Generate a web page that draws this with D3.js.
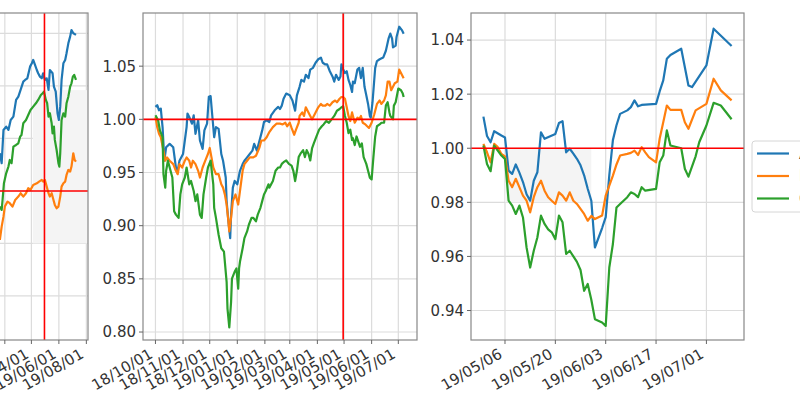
<!DOCTYPE html>
<html>
<head>
<meta charset="utf-8">
<script src="https://cdnjs.cloudflare.com/ajax/libs/d3/7.8.5/d3.min.js"></script>
<style>
  body { margin: 0; background: #fff; }
  text { font-family: "DejaVu Sans", sans-serif; }
</style>
</head>
<body>
<svg id="chart" width="800" height="418"></svg>
<script>
'use strict';
// each series point is [days after the panel's base date, value]

// ---- panel 1 (long range, left part cut off) ----
const base1 = '2019-01-01';
const range1 = ['2018-01-01', '2019-07-08'];
const xTicks1 = ['2018-02-01', '2018-04-01', '2018-06-01', '2018-08-01', '2018-10-01', '2018-12-01',
                 '2019-02-01', '2019-04-01', '2019-06-01', '2019-08-01'];
const yTicks1 = [0.90, 0.95, 1.00, 1.05, 1.10, 1.15];
const blue1 = [[20,1.0359],[24,1.0264],[28,1.0581],[34,1.0612],[39,1.0581],[44,1.0676],[50,1.0708],
  [56,1.0867],[61,1.0898],[66,1.0962],[72,1.1041],[76,1.1057],[81,1.1073],[87,1.1184],[91,1.1216],
  [94,1.1248],[98,1.1200],[102,1.1152],[105,1.1121],[109,1.1089],[113,1.1073],[116,1.1121],[120,1.1057],
  [124,1.1073],[128,1.0962],[131,1.1152],[137,1.1121],[140,1.0993],[144,1.0946],[148,1.0740],[151,1.0676],
  [154,1.0803],[157,1.1057],[161,1.1216],[165,1.1248],[168,1.1311],[172,1.1406],[176,1.1470],[179,1.1533],
  [183,1.1502],[189,1.1486]];
const orange1 = [[20,0.9533],[24,0.9660],[28,0.9755],[31,0.9851],[37,0.9898],[42,0.9883],[48,0.9851],
  [54,0.9914],[61,0.9946],[66,0.9978],[72,0.9946],[78,0.9978],[83,1.0026],[88,1.0010],[94,1.0057],
  [102,1.0073],[107,1.0089],[113,1.0105],[116,1.0089],[120,1.0105],[124,1.0041],[128,0.9978],[131,0.9946],
  [135,0.9978],[139,0.9914],[142,0.9867],[146,0.9835],[150,0.9851],[154,0.9946],[157,1.0041],[161,1.0073],
  [165,1.0089],[168,1.0152],[172,1.0200],[176,1.0184],[179,1.0232],[183,1.0359],[186,1.0295],[189,1.0279]];
const green1 = [[20,0.9851],[24,0.9819],[26,0.9914],[29,1.0073],[34,1.0168],[39,1.0232],[42,1.0295],
  [46,1.0264],[50,1.0422],[56,1.0438],[61,1.0454],[65,1.0517],[68,1.0533],[72,1.0645],[78,1.0676],
  [83,1.0724],[88,1.0771],[94,1.0803],[100,1.0835],[105,1.0867],[111,1.0914],[115,1.0930],[118,1.0946],
  [122,1.0867],[125,1.0835],[128,1.0708],[131,1.0740],[135,1.0645],[137,1.0549],[140,1.0612],[142,1.0486],
  [146,1.0390],[150,1.0264],[152,1.0232],[154,1.0359],[157,1.0676],[161,1.0740],[165,1.0708],[168,1.0835],
  [172,1.0898],[176,1.0993],[179,1.1025],[182,1.1089],[185,1.1105],[189,1.1057]];

// ---- panel 2 (since 18/10/01) ----
const base2 = '2018-10-01';
const range2 = ['2018-10-01', '2019-07-08'];
const xTicks2 = ['2018-10-01', '2018-11-01', '2018-12-01', '2019-01-01', '2019-02-01', '2019-03-01',
                 '2019-04-01', '2019-05-01', '2019-06-01', '2019-07-01'];
const yTicks2 = [0.80, 0.85, 0.90, 0.95, 1.00, 1.05];
const blue2 = [[0,1.0117],[2,1.0133],[4,1.0085],[6,1.0101],[8,0.9927],[10,0.9611],[12,0.9737],[16,0.9769],
  [20,0.9737],[23,0.9547],[25,0.9516],[27,0.9611],[31,0.9674],[35,0.9927],[36,1.0054],[38,1.0022],
  [41,0.9959],[43,1.0038],[45,0.9864],[48,0.9991],[50,0.9801],[53,0.9722],[55,0.9896],[58,0.9959],
  [60,1.0212],[62,1.0218],[64,1.0022],[66,0.9832],[68,0.9927],[71,0.9911],[74,0.9674],[76,0.9611],
  [79,0.9453],[80,0.9231],[82,0.9041],[84,0.8883],[85,0.9104],[87,0.9358],[89,0.9421],[92,0.9389],
  [95,0.9516],[98,0.9579],[100,0.9611],[103,0.9642],[106,0.9674],[109,0.9706],[111,0.9769],[114,0.9706],
  [117,0.9801],[120,0.9896],[122,0.9975],[125,0.9991],[128,0.9975],[130,1.0038],[134,1.0085],[138,1.0117],
  [140,1.0097],[142,1.0129],[144,1.0194],[147,1.0242],[151,1.0226],[154,1.0177],[157,1.0081],[159,1.0226],
  [162,1.0306],[164,1.0371],[167,1.0355],[169,1.0419],[172,1.0387],[174,1.0468],[177,1.0484],[180,1.0532],
  [183,1.0565],[186,1.0581],[188,1.0532],[191,1.0516],[193,1.0516],[196,1.0452],[199,1.0403],[201,1.0355],
  [203,1.0419],[206,1.0371],[208,1.0403],[209,1.0516],[211,1.0468],[213,1.0435],[215,1.0452],[217,1.0371],
  [219,1.0323],[221,1.0258],[222,1.0355],[224,1.0339],[227,1.0468],[229,1.0484],[231,1.0387],[233,1.0484],
  [235,1.0306],[237,1.0226],[239,1.0145],[241,1.0032],[242,1.0016],[244,1.0161],[247,1.0484],[249,1.0548],
  [252,1.0565],[256,1.0581],[259,1.0645],[262,1.0758],[264,1.0806],[266,1.0758],[267,1.0677],[270,1.0694],
  [271,1.0774],[274,1.0871],[277,1.0839],[279,1.0806]];
const orange2 = [[0,1.0022],[2,0.9927],[4,0.9864],[6,0.9832],[9,0.9706],[11,0.9611],[13,0.9642],[16,0.9611],
  [20,0.9579],[23,0.9516],[25,0.9484],[27,0.9579],[30,0.9547],[33,0.9611],[35,0.9642],[38,0.9611],
  [40,0.9547],[42,0.9611],[45,0.9579],[48,0.9516],[50,0.9453],[53,0.9547],[56,0.9611],[59,0.9674],
  [61,0.9731],[63,0.9642],[65,0.9547],[68,0.9484],[71,0.9484],[74,0.9389],[76,0.9358],[78,0.9294],
  [80,0.9199],[82,0.9041],[83,0.8946],[85,0.9073],[87,0.9231],[90,0.9294],[93,0.9199],[95,0.9326],
  [98,0.9516],[100,0.9579],[103,0.9611],[106,0.9642],[110,0.9642],[113,0.9658],[117,0.9737],[119,0.9801],
  [122,0.9801],[125,0.9832],[128,0.9880],[132,0.9927],[136,0.9959],[140,0.9960],[143,0.9952],[146,0.9968],
  [148,0.9935],[151,0.9968],[153,0.9919],[156,0.9855],[158,0.9903],[161,0.9968],[162,1.0032],[165,1.0065],
  [167,1.0032],[169,1.0113],[172,1.0065],[174,1.0032],[176,1.0000],[178,1.0032],[180,1.0065],[183,1.0113],
  [186,1.0145],[188,1.0129],[191,1.0129],[193,1.0145],[196,1.0129],[199,1.0161],[202,1.0177],[204,1.0161],
  [207,1.0194],[209,1.0210],[211,1.0210],[213,1.0194],[215,1.0113],[217,1.0032],[219,0.9984],[221,1.0065],
  [222,1.0032],[224,0.9968],[227,1.0016],[229,1.0000],[231,1.0032],[233,0.9968],[236,0.9952],[238,0.9935],
  [240,0.9919],[243,0.9968],[246,1.0048],[249,1.0145],[252,1.0177],[254,1.0145],[257,1.0177],[259,1.0226],
  [261,1.0355],[263,1.0355],[265,1.0274],[267,1.0306],[269,1.0339],[272,1.0355],[274,1.0468],[277,1.0419],
  [279,1.0387]];
const green2 = [[0,1.0038],[3,0.9991],[5,0.9896],[8,0.9832],[9,0.9484],[11,0.9358],[12,0.9516],[14,0.9611],
  [16,0.9547],[19,0.9453],[21,0.9136],[23,0.9104],[26,0.9073],[28,0.9294],[30,0.9389],[33,0.9453],
  [35,0.9547],[38,0.9389],[40,0.9421],[43,0.9326],[45,0.9231],[47,0.9294],[50,0.9104],[52,0.9073],
  [54,0.9294],[57,0.9453],[59,0.9547],[62,0.9611],[65,0.9389],[66,0.9168],[68,0.9073],[71,0.8915],
  [74,0.8788],[77,0.8756],[80,0.8472],[81,0.8218],[83,0.8044],[85,0.8282],[86,0.8503],[89,0.8566],
  [91,0.8598],[93,0.8408],[94,0.8598],[95,0.8661],[98,0.8788],[100,0.8883],[103,0.8946],[105,0.9009],
  [108,0.9073],[110,0.9073],[113,0.9041],[115,0.9104],[118,0.9168],[120,0.9231],[122,0.9294],[124,0.9326],
  [127,0.9389],[128,0.9358],[132,0.9421],[135,0.9516],[138,0.9547],[140,0.9548],[142,0.9581],[144,0.9597],
  [147,0.9613],[150,0.9581],[153,0.9565],[155,0.9516],[157,0.9419],[159,0.9516],[161,0.9645],[163,0.9677],
  [166,0.9710],[168,0.9645],[170,0.9710],[172,0.9677],[174,0.9613],[176,0.9726],[178,0.9774],[181,0.9839],
  [184,0.9903],[187,0.9935],[189,0.9952],[192,0.9984],[195,0.9968],[198,1.0000],[201,1.0032],[204,1.0081],
  [207,1.0097],[209,1.0113],[211,1.0123],[213,1.0032],[215,0.9968],[217,0.9871],[219,0.9903],[221,0.9806],
  [222,0.9823],[224,0.9758],[226,0.9839],[228,0.9790],[230,0.9742],[232,0.9774],[234,0.9645],[237,0.9581],
  [239,0.9516],[241,0.9452],[243,0.9435],[245,0.9645],[247,0.9839],[249,0.9935],[252,0.9952],[254,0.9968],
  [257,0.9968],[259,1.0129],[261,1.0161],[263,1.0065],[264,1.0032],[267,1.0000],[268,1.0129],[270,1.0161],
  [273,1.0290],[276,1.0274],[278,1.0242],[279,1.0210]];

// ---- panel 3 (since 19/04/30) ----
const base3 = '2019-04-30';
const range3 = ['2019-04-30', '2019-07-08'];
const xTicks3 = ['2019-05-06', '2019-05-20', '2019-06-03', '2019-06-17', '2019-07-01'];
const yTicks3 = [0.94, 0.96, 0.98, 1.00, 1.02, 1.04];
const blue3 = [[0,1.0117],[1,1.0045],[2,1.0022],[3,1.0063],[5,1.0047],[6,1.0040],[7,0.9917],[8,0.9905],
  [9,0.9940],[10,0.9910],[11,0.9875],[12,0.9830],[13,0.9806],[14,0.9880],[15,0.9911],[16,1.0059],
  [17,1.0035],[20,1.0053],[21,1.0093],[22,1.0100],[23,0.9985],[24,0.9998],[25,0.9980],[26,0.9961],
  [27,0.9937],[28,0.9900],[29,0.9850],[30,0.9806],[31,0.9633],[33,0.9705],[34,0.9745],[35,0.9900],
  [36,1.0030],[37,1.0085],[38,1.0127],[40,1.0140],[41,1.0152],[42,1.0177],[43,1.0155],[44,1.0160],
  [48,1.0164],[49,1.0210],[50,1.0251],[51,1.0331],[52,1.0345],[55,1.0368],[57,1.0232],[58,1.0226],
  [62,1.0306],[64,1.0442],[69,1.0378]];
const orange3 = [[0,1.0016],[1,0.9985],[2,0.9948],[3,1.0016],[4,1.0004],[5,0.9979],[6,0.9970],[7,0.9880],
  [8,0.9856],[9,0.9887],[10,0.9856],[11,0.9825],[12,0.9806],[13,0.9763],[14,0.9819],[15,0.9856],
  [16,0.9880],[17,0.9843],[18,0.9819],[19,0.9806],[20,0.9794],[21,0.9837],[22,0.9825],[23,0.9806],
  [24,0.9837],[25,0.9806],[26,0.9794],[27,0.9776],[28,0.9757],[29,0.9732],[30,0.9750],[31,0.9738],
  [33,0.9751],[34,0.9825],[35,0.9862],[36,0.9899],[37,0.9940],[38,0.9973],[40,0.9979],[41,0.9983],
  [42,0.9991],[43,0.9975],[44,1.0004],[45,0.9985],[46,0.9967],[48,0.9948],[49,1.0035],[50,1.0096],
  [51,1.0158],[52,1.0142],[55,1.0142],[56,1.0096],[57,1.0072],[59,1.0140],[62,1.0164],[64,1.0257],
  [66,1.0214],[69,1.0177]];
const green3 = [[0,1.0010],[1,0.9942],[2,0.9915],[3,1.0010],[5,0.9973],[6,0.9960],[7,0.9806],[8,0.9788],
  [9,0.9757],[10,0.9788],[11,0.9744],[12,0.9633],[13,0.9559],[14,0.9621],[15,0.9670],[16,0.9751],
  [17,0.9720],[18,0.9700],[19,0.9689],[20,0.9664],[21,0.9751],[22,0.9726],[23,0.9609],[24,0.9621],
  [26,0.9580],[27,0.9550],[28,0.9473],[29,0.9498],[30,0.9440],[31,0.9368],[33,0.9356],[34,0.9343],
  [35,0.9559],[36,0.9646],[37,0.9781],[38,0.9794],[40,0.9819],[41,0.9837],[42,0.9831],[43,0.9819],
  [44,0.9856],[45,0.9843],[48,0.9850],[49,0.9948],[50,0.9973],[51,1.0066],[52,1.0010],[55,1.0000],
  [56,0.9924],[57,0.9895],[59,0.9970],[60,1.0022],[62,1.0084],[64,1.0168],[66,1.0158],[69,1.0107]];

const seriesNames = ['A', 'B', 'C'];
const colors = ['#1f77b4', '#ff7f0e', '#2ca02c'];

const parse = d3.timeParse('%Y-%m-%d');
const fmt = d3.timeFormat('%y/%m/%d');
const svg = d3.select('#chart');
const plotTop = 13, plotBottom = 340;

const panels = [
  {id: 'p1', base: base1, range: range1, series: [blue1, orange1, green1], left: -186, right: 88,
   yDomain: [0.858, 1.1695], xTicks: xTicks1, yTicks: yTicks1, vline: '2019-04-30',
   shade: {from: '2019-04-04', to: null, lo: 0.95, hi: 1.096}},
  {id: 'p2', base: base2, range: range2, series: [blue2, orange2, green2], left: 143, right: 417,
   yDomain: [0.7925, 1.10], xTicks: xTicks2, yTicks: yTicks2, vline: '2019-04-30', shade: null},
  {id: 'p3', base: base3, range: range3, series: [blue3, orange3, green3], left: 471, right: 744,
   yDomain: [0.9291, 1.05], xTicks: xTicks3, yTicks: yTicks3, vline: null,
   shade: {from: '2019-05-06', to: '2019-05-30', lo: 0.98, hi: 1.0}}
];

panels.forEach(p => {
  const d0 = parse(p.range[0]), d1 = parse(p.range[1]);
  const pad = (d1 - d0) * 0.05;
  const x = d3.scaleTime()
    .domain([new Date(+d0 - pad), new Date(+d1 + pad)])
    .range([p.left, p.right]);
  const y = d3.scaleLinear().domain(p.yDomain).range([plotBottom, plotTop]);
  const baseDate = parse(p.base);
  const g = svg.append('g');

  g.append('clipPath').attr('id', 'clip-' + p.id)
    .append('rect')
    .attr('x', p.left).attr('y', plotTop)
    .attr('width', p.right - p.left).attr('height', plotBottom - plotTop);

  // grid
  g.append('g').selectAll('line').data(p.xTicks.map(parse)).join('line')
    .attr('x1', d => x(d)).attr('x2', d => x(d))
    .attr('y1', plotTop).attr('y2', plotBottom)
    .attr('stroke', '#dcdcdc').attr('stroke-width', 1.2);
  g.append('g').selectAll('line').data(p.yTicks).join('line')
    .attr('x1', p.left).attr('x2', p.right)
    .attr('y1', d => y(d)).attr('y2', d => y(d))
    .attr('stroke', '#dcdcdc').attr('stroke-width', 1.2);

  const inner = g.append('g').attr('clip-path', `url(#clip-${p.id})`);

  if (p.shade) {
    const sx0 = x(parse(p.shade.from));
    const sx1 = p.shade.to ? x(parse(p.shade.to)) : p.right;
    inner.append('rect')
      .attr('x', sx0).attr('y', y(p.shade.hi))
      .attr('width', sx1 - sx0).attr('height', y(p.shade.lo) - y(p.shade.hi))
      .attr('fill', '#f4f4f4');
  }

  const line = d3.line()
    .x(d => x(d3.timeDay.offset(baseDate, d[0])))
    .y(d => y(d[1]));

  p.series.forEach((s, i) => {
    inner.append('path')
      .datum(s)
      .attr('d', line)
      .attr('fill', 'none')
      .attr('stroke', colors[i])
      .attr('stroke-width', 2.2)
      .attr('stroke-linejoin', 'round');
  });

  // reference lines
  inner.append('line')
    .attr('x1', p.left).attr('x2', p.right)
    .attr('y1', y(1)).attr('y2', y(1))
    .attr('stroke', 'red').attr('stroke-width', 1.6);
  if (p.vline) {
    const vx = x(parse(p.vline));
    inner.append('line')
      .attr('x1', vx).attr('x2', vx)
      .attr('y1', plotTop).attr('y2', plotBottom)
      .attr('stroke', 'red').attr('stroke-width', 1.6);
  }

  // frame
  g.append('rect')
    .attr('x', p.left).attr('y', plotTop)
    .attr('width', p.right - p.left).attr('height', plotBottom - plotTop)
    .attr('fill', 'none').attr('stroke', '#888').attr('stroke-width', 1.2);

  // x ticks and labels (labels lying wholly off the page are skipped)
  const xt = g.append('g').selectAll('g').data(p.xTicks.map(parse)).join('g');
  xt.append('line')
    .attr('x1', d => x(d)).attr('x2', d => x(d))
    .attr('y1', plotBottom).attr('y2', plotBottom + 4)
    .attr('stroke', '#666');
  xt.filter(d => x(d) > 8).append('text')
    .attr('transform', d => `translate(${x(d) - 1.7},${plotBottom + 17}) rotate(-30)`)
    .attr('text-anchor', 'end')
    .attr('font-size', 15)
    .attr('fill', '#333')
    .text(d => fmt(d));

  // y ticks and labels
  const yt = g.append('g').selectAll('g').data(p.yTicks).join('g');
  yt.append('line')
    .attr('x1', p.left - 4).attr('x2', p.left)
    .attr('y1', d => y(d)).attr('y2', d => y(d))
    .attr('stroke', '#666');
  if (p.left > 40) {
    yt.append('text')
      .attr('x', p.left - 7)
      .attr('y', d => y(d))
      .attr('dy', '0.36em')
      .attr('text-anchor', 'end')
      .attr('font-size', 15)
      .attr('fill', '#333')
      .text(d => d3.format('.2f')(d));
  }
});

// legend (mostly outside the picture on the right)
const legend = svg.append('g');
legend.append('rect')
  .attr('x', 752).attr('y', 141).attr('width', 80).attr('height', 71).attr('rx', 3)
  .attr('fill', '#fff').attr('stroke', '#d6d6d6');
seriesNames.forEach((name, i) => {
  const ly = 153.5 + i * 22.5;
  legend.append('line')
    .attr('x1', 757).attr('x2', 789).attr('y1', ly).attr('y2', ly)
    .attr('stroke', colors[i]).attr('stroke-width', 2.2);
  legend.append('text')
    .attr('x', 799).attr('y', ly).attr('dy', '0.36em')
    .attr('font-size', 15).attr('fill', '#333')
    .text(name);
});
</script>
</body>
</html>
